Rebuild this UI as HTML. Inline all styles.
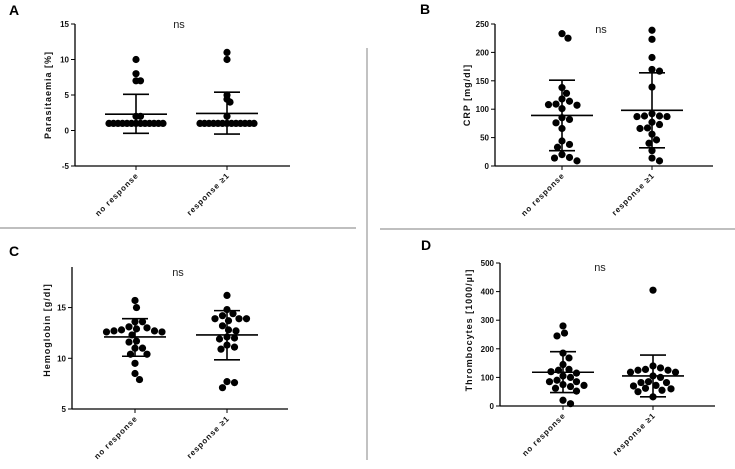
<!DOCTYPE html>
<html><head><meta charset="utf-8">
<style>
body{margin:0;background:#fff;}
svg{display:block;font-family:"Liberation Sans",Arial,sans-serif;}
.tick{font-size:8px;font-weight:bold;fill:#111;}
.yt{font-size:9px;font-weight:bold;fill:#111;letter-spacing:1px;}
.xl{font-size:8px;font-weight:bold;fill:#111;letter-spacing:0.9px;}
.pl{font-size:14px;font-weight:bold;fill:#000;}
.ns{font-size:11px;fill:#222;}
</style></head>
<body>
<svg id="fig" width="735" height="469" viewBox="0 0 735 469">
<line x1="0" y1="228" x2="356" y2="228" stroke="#999" stroke-width="1.2"/>
<line x1="380" y1="229" x2="735" y2="229" stroke="#999" stroke-width="1.2"/>
<line x1="367" y1="48" x2="367" y2="460" stroke="#999" stroke-width="1.2"/>
</svg>
<script>
const categories = ["no response", "response \u22651"];
const aNo = [10,8,7,7,2,2,1,1,1,1,1,1,1,1,1,1,1,1,1];
const aResp = [11,10,5,4.4,4,2,1,1,1,1,1,1,1,1,1,1,1,1,1];
const aStats = [[2.3,5.1,-0.4],[2.4,5.4,-0.5]];
const aTicks = [-5,0,5,10,15];
const bNo = [233,225,138,128,118,114,109,108,107,101,85,82,76,66,44,38,33,20,15,14,9];
const bResp = [239,223,191,170,167,139,92,88,88,87,87,77,73,67,66,56,46,40,27,14,9];
const bStats = [[89,151,27],[98,164,32]];
const bTicks = [0,50,100,150,200,250];
const cNo = [15.7,15,13.6,13.6,13.1,13.0,12.9,12.8,12.7,12.7,12.6,12.6,12.3,11.7,11.6,11.0,11.0,10.4,10.4,9.5,8.5,7.9];
const cResp = [16.2,14.8,14.4,14.2,13.9,13.9,13.9,13.7,13.2,12.8,12.7,12.1,12.0,11.9,11.3,11.1,10.9,7.7,7.6,7.1];
const cStats = [[12.1,13.9,10.2],[12.3,14.7,9.85]];
const cTicks = [5,10,15];
const dNo = [280,255,245,185,168,145,128,125,120,115,105,100,90,85,85,75,72,68,62,52,20,8];
const dResp = [405,140,133,128,125,125,118,118,105,100,85,82,82,72,70,62,60,55,50,32];
const dStats = [[118,190,47],[105,178,32]];
const dTicks = [0,100,200,300,400,500];

const NS="http://www.w3.org/2000/svg";
const svg=document.getElementById('fig');
function mk(tag,attrs,parent){const e=document.createElementNS(NS,tag);for(const k in attrs)e.setAttribute(k,attrs[k]);(parent||svg).appendChild(e);return e;}

function panel(p){
  const g=mk('g',{});
  
  
  const y=v=>p.y0+(v-p.vmin)/(p.vmax-p.vmin)*(p.y1-p.y0);
  const axisY=y(p.vmin);
  const lab=mk('text',{x:p.lx,y:p.ly,class:'pl'},g);lab.textContent=p.id;
  
  
  const yax=mk('line',{x1:p.ax,y1:y(p.vmax),x2:p.ax,y2:axisY,stroke:'#000','stroke-width':1.3},g);
  
  
  const xax=mk('line',{x1:p.ax,y1:axisY,x2:p.xend,y2:axisY,stroke:'#000','stroke-width':1.3},g);
  
  
  p.ticks.forEach(t=>{
    mk('line',{x1:p.ax-4,y1:y(t),x2:p.ax,y2:y(t),stroke:'#000','stroke-width':1},g);
    const tx=mk('text',{x:p.ax-6,y:y(t)+3,class:'tick','text-anchor':'end'},g);tx.textContent=t;
    
    
  });
  const yt=mk('text',{class:'yt','text-anchor':'middle',transform:`translate(${p.tx},${p.ty}) rotate(-90)`},g);
  yt.textContent=p.title;
  
  
  const ns=mk('text',{x:p.nsx,y:p.nsy,class:'ns','text-anchor':'middle'},g);ns.textContent='ns';
  
  
  [p.no,p.resp].forEach((vals,i)=>{
    const cx=p.cx[i];
    mk('line',{x1:cx,y1:axisY,x2:cx,y2:axisY+4,stroke:'#000'},g);
    const xl=mk('text',{class:'xl','text-anchor':'end',transform:`translate(${cx+3},${axisY+10}) rotate(-45)`},g);
    xl.textContent=categories[i];
    
    
    const placed=[];
    const r=3.6, d=p.d;
    vals.forEach(v=>{
      const py=y(v);
      let off=0;
      for(let k=0;k<80;k++){
        const cand=k===0?0:(k%2? 1:-1)*Math.ceil(k/2)*1.5;
        if(placed.every(q=>Math.hypot(q[0]-(cx+cand),q[1]-py)>=d)){off=cand;break;}
      }
      placed.push([cx+off,py]);
      const c=mk('circle',{cx:cx+off,cy:py,r:r,fill:'#000'},g);
      
      
    });
    const st=p.stats[i];
    const mean=mk('line',{x1:cx-31,y1:y(st[0]),x2:cx+31,y2:y(st[0]),stroke:'#000','stroke-width':1.6},g);
    
    
    const sd=mk('line',{x1:cx,y1:y(st[1]),x2:cx,y2:y(st[2]),stroke:'#000','stroke-width':1.6},g);
    
    
    [st[1],st[2]].forEach(e=>{
      const cap=mk('line',{x1:cx-13,y1:y(e),x2:cx+13,y2:y(e),stroke:'#000','stroke-width':1.6},g);
      
      
    });
  });
}
panel({id:'A',d:3.6,lx:9,ly:15,ax:75,xend:290,y0:166,y1:24,vmin:-5,vmax:15,ticks:aTicks,cx:[136,227],no:aNo,resp:aResp,stats:aStats,title:'Parasitaemia [%]',tx:51,ty:95,nsx:179,nsy:28});
panel({id:'B',d:7.2,lx:420,ly:14,ax:495,xend:713,y0:166,y1:24,vmin:0,vmax:250,ticks:bTicks,cx:[562,652],no:bNo,resp:bResp,stats:bStats,title:'CRP [mg/dl]',tx:470,ty:95,nsx:601,nsy:33});
panel({id:'C',d:7.2,lx:9,ly:256,ax:72,xend:288,y0:409,y1:267,vmin:5,vmax:19,ticks:cTicks,cx:[135,227],no:cNo,resp:cResp,stats:cStats,title:'Hemoglobin [g/dl]',tx:50,ty:330,nsx:178,nsy:276});
panel({id:'D',d:7.2,lx:421,ly:250,ax:500,xend:715,y0:406,y1:263,vmin:0,vmax:500,ticks:dTicks,cx:[563,653],no:dNo,resp:dResp,stats:dStats,title:'Thrombocytes [1000/\u00b5l]',tx:472,ty:330,nsx:600,nsy:271});
</script>
</body></html>
